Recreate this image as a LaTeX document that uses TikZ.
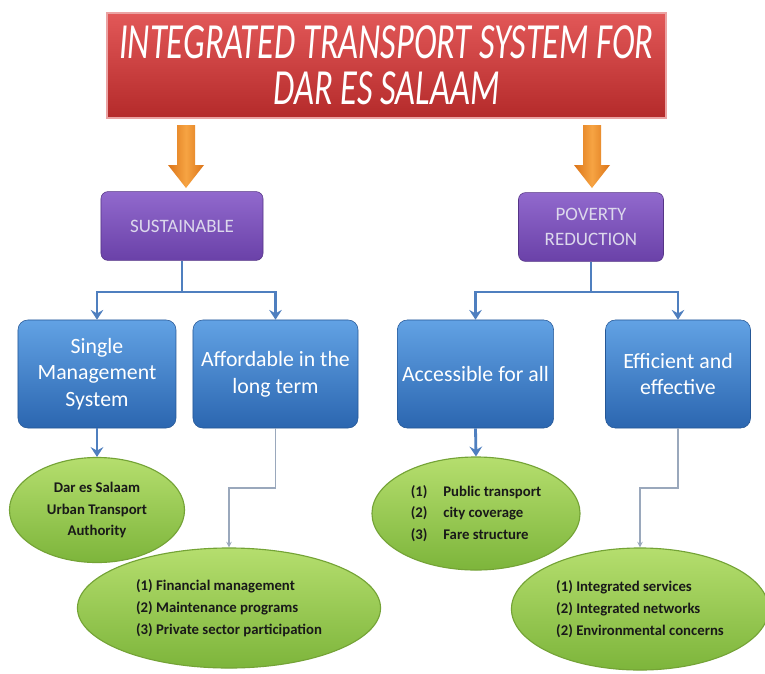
\documentclass[tikz,border=0pt]{standalone}
\usepackage{fontspec}
\setmainfont{Carlito}
\newfontfamily\titlefont[FakeStretch=0.68]{Carlito}
\usetikzlibrary{shapes.geometric,arrows.meta,calc}

\definecolor{redtop}{HTML}{E25858}
\definecolor{redbot}{HTML}{B42A2A}
\definecolor{redrim}{HTML}{EBA3A3}
\definecolor{orlight}{HTML}{F6A443}
\definecolor{ordark}{HTML}{DC7418}
\definecolor{purtop}{HTML}{9169CD}
\definecolor{purbot}{HTML}{6A41A8}
\definecolor{purtext}{HTML}{DCD8EC}
\definecolor{blutop}{HTML}{62A2E4}
\definecolor{blubot}{HTML}{2B66B0}
\definecolor{bluline}{HTML}{4F7FBF}
\definecolor{greytop}{HTML}{9AA8BC}
\definecolor{grntop}{HTML}{B5DE6E}
\definecolor{grnbot}{HTML}{7DB53B}
\definecolor{grnrim}{HTML}{74A336}

\begin{document}
\begin{tikzpicture}[x=0.025cm,y=-0.025cm,
    headbox/.style={rectangle,top color=redtop,bottom color=redbot,draw=redrim,
      line width=1pt,minimum width=13.975cm,minimum height=2.625cm,text=white,
      align=center,font=\titlefont\itshape\fontsize{36}{33}\selectfont},
    goalbox/.style={rectangle,rounded corners=5pt,top color=purtop,bottom color=purbot,
      draw=purbot!80!black,text=purtext,align=center,minimum height=1.72cm,
      font=\fontsize{13.5}{18}\selectfont},
    aimbox/.style={rectangle,rounded corners=7pt,top color=blutop,bottom color=blubot,
      draw=blubot!85!black,text=white,align=center,minimum height=2.7cm,
      font=\fontsize{15.5}{19}\selectfont},
    means/.style={ellipse,inner sep=0pt,top color=grntop,bottom color=grnbot,
      draw=grnrim,line width=0.8pt,align=left,text=black!90,
      font=\bfseries\fontsize{10.5}{15.5}\selectfont},
    bluelink/.style={draw=bluline,line width=2pt,-{Stealth[length=7pt,width=9pt,inset=2.5pt]}},
    greylink/.style={draw=greytop,line width=0.8pt,-{Stealth[length=4pt,width=4pt]}}]

  \path[use as bounding box,fill=white] (0,0) rectangle (765,673);

  % title and the two aims
  \node[headbox] (title) at (386.5,65.5)
    {INTEGRATED TRANSPORT SYSTEM FOR\\DAR ES SALAAM};
  \node[goalbox,minimum width=4.05cm] (sust) at (182,226) {SUSTAINABLE};
  \node[goalbox,minimum width=3.625cm] (pov) at (591,227) {POVERTY\\REDUCTION};

  % orange block arrows
  \foreach \c in {186,592}{
    \shade[left color=ordark,right color=ordark,middle color=orlight]
      (\c-9,125) -- (\c+9,125) -- (\c+9,165) -- (\c+18,165) -- (\c,188)
      -- (\c-18,165) -- (\c-9,165) -- cycle;
  }

  % blue boxes
  \node[aimbox,minimum width=3.95cm] (single) at (97,374) {Single\\Management\\System};
  \node[aimbox,minimum width=4.125cm] (afford) at (275.5,374) {Affordable in the\\long term};
  \node[aimbox,minimum width=3.875cm] (access) at (475.5,374) {Accessible for all};
  \node[aimbox,minimum width=3.625cm] (effic) at (678,374) {Efficient and\\effective};

  % green ellipses
  \node[means,align=center,minimum width=4.375cm,minimum height=2.625cm] (dart) at (97,510)
    {Dar es Salaam\\Urban Transport\\Authority};
  \node[means,minimum width=7.575cm,minimum height=3cm] (fin) at (229,608)
    {(1) Financial management\\(2) Maintenance programs\\(3) Private sector participation};
  \node[means,minimum width=5.2cm,minimum height=2.825cm] (pubt) at (476,513.5)
    {\makebox[2.2em][l]{(1)}Public transport\\\makebox[2.2em][l]{(2)}city coverage\\\makebox[2.2em][l]{(3)}Fare structure};
  \node[means,minimum width=6.425cm,minimum height=3.05cm] (integ) at (640,609)
    {(1) Integrated services\\(2) Integrated networks\\(2) Environmental concerns};

  % connectors
  \coordinate (bar) at (0,292);
  \coordinate (bend) at (0,488);
  \draw[bluelink] (sust.south) -- (sust.south |- bar) -| (single.north);
  \draw[bluelink] (sust.south |- bar) -| (afford.north);
  \draw[bluelink] (pov.south) -- (pov.south |- bar) -| (access.north);
  \draw[bluelink] (pov.south |- bar) -| (effic.north);
  \draw[bluelink] (single.south) -- (dart.north);
  \draw[bluelink] (access.south) -- (pubt.north);
  \draw[greylink] (afford.south) -- (afford.south |- bend) -| (fin.north);
  \draw[greylink] (effic.south) -- (effic.south |- bend) -| (integ.north);
\end{tikzpicture}
\end{document}
